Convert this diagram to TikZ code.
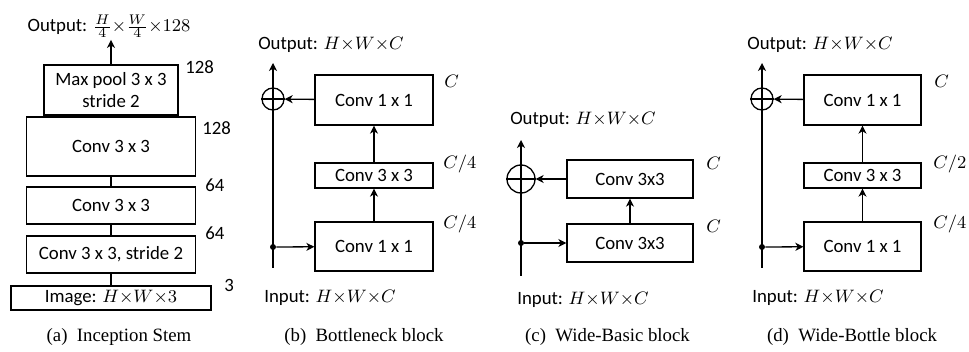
\documentclass[tikz,border=0pt]{standalone}
\usepackage{fontspec}
\setmainfont{Liberation Serif}
\newfontfamily\carlito{Carlito}
\usetikzlibrary{arrows.meta, positioning}

\begin{document}
\begin{tikzpicture}[
    x=0.5pt, y=-0.5pt,
    box/.style={rectangle, draw=black, line width=0.65pt,
      align=center, font=\carlito\fontsize{9.4}{11}\selectfont, inner sep=2pt},
    lbl/.style={font=\carlito\fontsize{9.4}{11}\selectfont, inner sep=1pt},
    dimlbl/.style={font=\carlito\fontsize{9.4}{11}\selectfont, inner sep=0pt, anchor=west},
    subcap/.style={font=\fontsize{9.4}{11}\selectfont, inner sep=1pt},
    addnode/.style={circle, draw=black, line width=0.65pt, inner sep=0pt},
    splitdot/.style={circle, fill=black, inner sep=0pt, minimum size=3pt},
    wire/.style={line width=0.65pt},
    arr/.style={line width=0.65pt, -{Stealth[length=4pt, width=4pt, inset=1.2pt]}}
  ]
    \useasboundingbox (0,0) rectangle (969,352);

    % (a) Inception Stem
    \node[box, minimum width=100pt, minimum height=12pt] (img) at (111,298) {Image: $H{\times}W{\times}3$};
    \node[box, minimum width=84.5pt, minimum height=18.5pt] (stema) at (111,254.5) {Conv 3 x 3, stride 2};
    \node[box, minimum width=84.5pt, minimum height=18.5pt] (stemb) at (111,205.5) {Conv 3 x 3};
    \node[box, minimum width=84.5pt, minimum height=29.5pt] (stemc) at (111,146.5) {Conv 3 x 3};
    \node[box, minimum width=67pt, minimum height=25pt] (pool) at (111,90) {Max pool 3 x 3\\stride 2};
    \node[lbl] (outa) at (109,26) {Output: $\frac{H}{4}{\times}\frac{W}{4}{\times}128$};
    \draw[wire] (img) -- (stema);
    \draw[wire] (stema) -- (stemb);
    \draw[wire] (stemb) -- (stemc);
    \draw[wire] (stemc) -- (pool);
    \draw[arr] (pool) -- (pool.north |- outa.south);
    \node[dimlbl] at (224,285) {3};
    \node[dimlbl] at (205,233) {64};
    \node[dimlbl] at (205,185) {64};
    \node[dimlbl] at (202,128) {128};
    \node[dimlbl] at (185,67) {128};
    \node[subcap] (capa) at (119,337) {(a)\enspace Inception Stem};

    % (b) Bottleneck block
    \coordinate (btmb) at (273,268);
    \coordinate (topb) at (273,63);
    \node[box, minimum width=59pt, minimum height=24.5pt] (bneckb) at (374,246.5) {Conv 1 x 1};
    \node[box, minimum width=59pt, minimum height=12.5pt] (bneckm) at (374,175.5) {Conv 3 x 3};
    \node[box, minimum width=59pt, minimum height=25pt] (bneckt) at (374,100) {Conv 1 x 1};
    \node[addnode, minimum size=11pt] (addb) at (273,99) {};
    \node[splitdot] (splitb) at (273,247) {};
    \draw[arr] (btmb) -- (topb);
    \draw[wire] (addb.west) -- (addb.east);
    \draw[arr] (splitb) -- (bneckb);
    \draw[arr] (bneckb) -- (bneckm);
    \draw[arr] (bneckm) -- (bneckt);
    \draw[arr] (bneckt) -- (addb);
    \node[lbl] (outb) at (331,45) {Output: $H{\times}W{\times}C$};
    \node[lbl] (inb) at (330,298) {Input: $H{\times}W{\times}C$};
    \node[dimlbl] at (444,81) {$C$};
    \node[dimlbl] at (443,164) {$C/4$};
    \node[dimlbl] at (443,224) {$C/4$};
    \node[subcap] (capb) at (364,337) {(b)\enspace Bottleneck block};

    % (c) Wide-Basic block
    \coordinate (btmc) at (521,276);
    \coordinate (topc) at (521,140);
    \node[box, minimum width=63pt, minimum height=19pt] (basicb) at (630,243) {Conv 3x3};
    \node[box, minimum width=63pt, minimum height=19pt] (basict) at (630,179) {Conv 3x3};
    \node[addnode, minimum size=14pt] (addc) at (521,179) {};
    \node[splitdot] (splitc) at (521,243) {};
    \draw[arr] (btmc) -- (topc);
    \draw[wire] (addc.west) -- (addc.east);
    \draw[arr] (splitc) -- (basicb);
    \draw[arr] (basicb) -- (basict);
    \draw[arr] (basict) -- (addc);
    \node[lbl] (outc) at (583,120) {Output: $H{\times}W{\times}C$};
    \node[lbl] (inc) at (583,300) {Input: $H{\times}W{\times}C$};
    \node[dimlbl] at (706,163) {$C$};
    \node[dimlbl] at (706,226) {$C$};
    \node[subcap] (capc) at (607.5,337) {(c)\enspace Wide-Basic block};

    % (d) Wide-Bottle block
    \coordinate (btmd) at (762,268);
    \coordinate (topd) at (762,63);
    \node[box, minimum width=58.5pt, minimum height=24.5pt] (wideb) at (862.5,246.5) {Conv 1 x 1};
    \node[box, minimum width=58.5pt, minimum height=12.5pt] (widem) at (862.5,175.5) {Conv 3 x 3};
    \node[box, minimum width=58.5pt, minimum height=25pt] (widet) at (862.5,100) {Conv 1 x 1};
    \node[addnode, minimum size=11pt] (addd) at (762,99) {};
    \node[splitdot] (splitd) at (762,247) {};
    \draw[arr] (btmd) -- (topd);
    \draw[wire] (addd.west) -- (addd.east);
    \draw[arr] (splitd) -- (wideb);
    \draw[arr] (wideb) -- (widem);
    \draw[arr] (widem) -- (widet);
    \draw[arr] (widet) -- (addd);
    \node[lbl] (outd) at (820,45) {Output: $H{\times}W{\times}C$};
    \node[lbl] (ind) at (818,298) {Input: $H{\times}W{\times}C$};
    \node[dimlbl] at (934,81) {$C$};
    \node[dimlbl] at (933,164) {$C/2$};
    \node[dimlbl] at (933,224) {$C/4$};
    \node[subcap] (capd) at (852,337) {(d)\enspace Wide-Bottle block};
  \end{tikzpicture}
\end{document}
